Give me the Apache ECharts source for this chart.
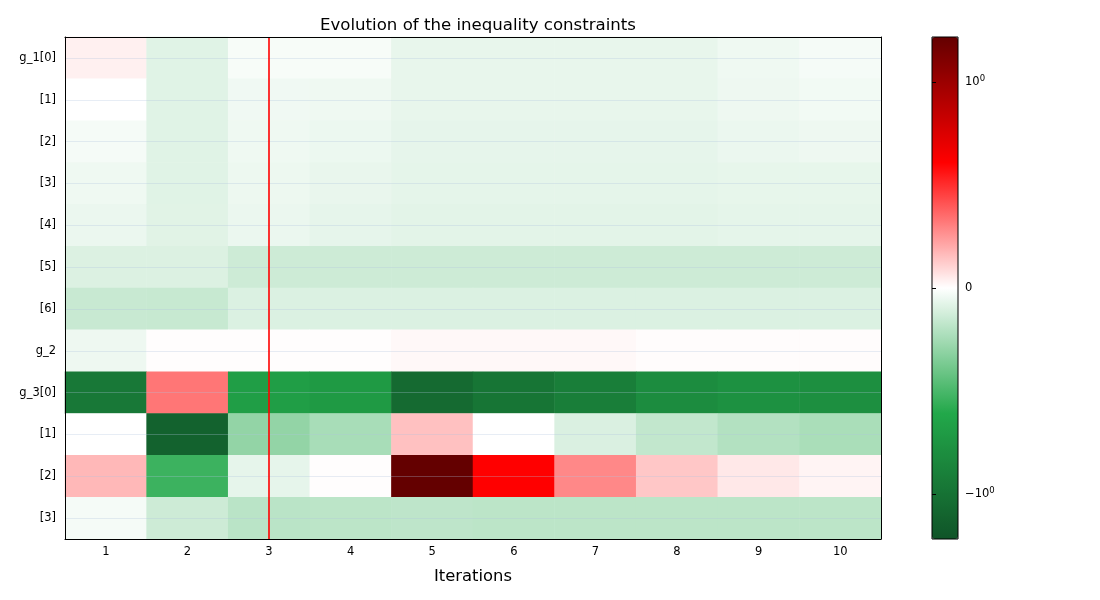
<!DOCTYPE html>
<html>
<head>
<meta charset="utf-8">
<script src="https://cdn.jsdelivr.net/npm/echarts@6/dist/echarts.min.js"></script>
<style>
  html, body { margin: 0; padding: 0; background: #fff; }
  #chart { width: 1100px; height: 600px; }
</style>
</head>
<body>
<div id="chart"></div>
<script>
// x categories
const iterations = ['1', '2', '3', '4', '5', '6', '7', '8', '9', '10'];
// y categories, top to bottom
const constraints = ['g_1[0]', '[1]', '[2]', '[3]', '[4]', '[5]', '[6]', 'g_2', 'g_3[0]', '[1]', '[2]', '[3]'];

// one array per constraint row
const g1_0 = [0.036, -0.085, -0.022, -0.022, -0.063, -0.063, -0.063, -0.063, -0.044, -0.028];
const g1_1 = [0.001, -0.085, -0.041, -0.043, -0.063, -0.063, -0.063, -0.063, -0.047, -0.036];
const g1_2 = [-0.028, -0.085, -0.044, -0.052, -0.069, -0.069, -0.069, -0.069, -0.055, -0.047];
const g1_3 = [-0.044, -0.085, -0.050, -0.060, -0.072, -0.072, -0.072, -0.072, -0.066, -0.066];
const g1_4 = [-0.055, -0.083, -0.055, -0.069, -0.077, -0.077, -0.077, -0.077, -0.072, -0.072];
const g1_5 = [-0.096, -0.096, -0.138, -0.138, -0.138, -0.138, -0.138, -0.138, -0.138, -0.138];
const g1_6 = [-0.152, -0.155, -0.099, -0.099, -0.099, -0.099, -0.099, -0.099, -0.099, -0.099];
const g2 = [-0.047, 0.004, 0.004, 0.004, 0.017, 0.017, 0.017, 0.008, 0.008, 0.008];
const g3_0 = [-0.957, 0.327, -0.682, -0.710, -1.16, -0.979, -0.913, -0.812, -0.776, -0.79];
const g3_1 = [0.001, -1.35, -0.298, -0.240, 0.148, 0.001, -0.102, -0.168, -0.209, -0.234];
const g3_2 = [0.170, -0.537, -0.069, 0.005, 1.75, 0.609, 0.284, 0.134, 0.055, 0.026];
const g3_3 = [-0.028, -0.138, -0.190, -0.185, -0.180, -0.185, -0.185, -0.185, -0.185, -0.185];

const rows = [g1_0, g1_1, g1_2, g1_3, g1_4, g1_5, g1_6, g2, g3_0, g3_1, g3_2, g3_3];
const markedIteration = 2; // index of iteration "3"

// symlog like matplotlib, linthresh 1, linscale 1
const linScale = 1 / (1 - 1 / 10);
function symlog(v) {
    const a = Math.abs(v);
    const t = a <= 1 ? a * linScale : linScale + Math.log10(a);
    return v < 0 ? -t : t;
}

const vmax = Math.max(...rows.flat().map(Math.abs));
const tMax = symlog(vmax);

const data = [];
rows.forEach((row, yi) => {
    row.forEach((v, xi) => {
        data.push([xi, yi, symlog(v), v]);
    });
});

const font = 'DejaVu Sans';
const chart = echarts.init(document.getElementById('chart'));

const option = {
    animation: false,
    textStyle: { fontFamily: font },
    title: {
        text: 'Evolution of the inequality constraints',
        left: 473,
        top: 12,
        textAlign: 'center',
        textStyle: { fontFamily: font, fontSize: 16.6, fontWeight: 'normal', color: '#000' }
    },
    grid: [
        { left: 65, right: 219, top: 37, bottom: 61 },
        { left: 932, width: 26, top: 37, height: 502, show: true, borderColor: '#000', borderWidth: 1, z: 6 }
    ],
    xAxis: [
        {
            type: 'category',
            data: iterations,
            gridIndex: 0,
            z: 10,
            name: 'Iterations',
            nameLocation: 'middle',
            nameGap: 30,
            nameTextStyle: { fontFamily: font, fontSize: 16.4, color: '#000' },
            axisLine: { lineStyle: { color: '#000', width: 1 } },
            axisTick: { alignWithLabel: true, length: 4, lineStyle: { color: '#000' } },
            axisLabel: { fontFamily: font, fontSize: 11.5, color: '#000', margin: 7 },
            splitLine: { show: false }
        },
        {
            type: 'category',
            data: iterations,
            gridIndex: 0,
            position: 'top',
            z: 10,
            axisLine: { lineStyle: { color: '#000', width: 1 } },
            axisTick: { show: false },
            axisLabel: { show: false }
        },
        { type: 'value', gridIndex: 1, show: false, min: 0, max: 1 }
    ],
    yAxis: [
        {
            type: 'category',
            data: constraints,
            gridIndex: 0,
            inverse: true,
            z: 10,
            axisLine: { lineStyle: { color: '#000', width: 1 } },
            axisTick: { alignWithLabel: true, length: 4, lineStyle: { color: '#000' } },
            axisLabel: { fontFamily: font, fontSize: 11.5, color: '#000', margin: 9 },
            splitLine: { show: false }
        },
        {
            type: 'category',
            data: constraints,
            gridIndex: 0,
            inverse: true,
            position: 'right',
            z: 10,
            axisLine: { lineStyle: { color: '#000', width: 1 } },
            axisTick: { show: false },
            axisLabel: { show: false }
        },
        {
            type: 'value',
            gridIndex: 1,
            position: 'right',
            min: -tMax,
            max: tMax,
            z: 10,
            axisLine: { show: false },
            splitLine: { show: false },
            axisTick: { show: true, inside: false, length: 4, customValues: [-linScale, 0, linScale], lineStyle: { color: '#000' } },
            axisLabel: {
                show: true,
                margin: 7,
                customValues: [-linScale, 0, linScale],
                color: '#000',
                fontFamily: font,
                fontSize: 11.5,
                formatter: (v) => {
                    if (Math.abs(v) < 1e-9) return '0';
                    return (v < 0 ? '\u221210' : '10') + '{sup|0}';
                },
                rich: {
                    sup: { fontSize: 8.5, fontFamily: font, color: '#000', padding: [0, 0, 7, 0] }
                }
            }
        }
    ],
    visualMap: {
        type: 'continuous',
        show: true,
        dimension: 2,
        seriesIndex: 0,
        min: -tMax,
        max: tMax,
        calculable: false,
        left: 932,
        top: 37,
        padding: 0,
        itemWidth: 26,
        itemHeight: 502,
        text: null,
        showLabel: false,
        inRange: {
            color: ['#105428', '#22a84a', '#ffffff', '#ff0000', '#640000']
        }
    },
    series: [
        {
            type: 'heatmap',
            xAxisIndex: 0,
            yAxisIndex: 0,
            data: data,
            emphasis: { disabled: true },
            itemStyle: { borderWidth: 0 },
            markLine: {
                silent: true,
                symbol: 'none',
                label: { show: false },
                animation: false,
                data: constraints.map((c, i) => ({
                    yAxis: i,
                    lineStyle: { color: 'rgba(176,196,222,0.3)', width: 1, type: 'solid' }
                })).concat([{
                    xAxis: markedIteration,
                    lineStyle: { color: '#ff0000', width: 1.6, type: 'solid' }
                }])
            }
        }
    ]
};

chart.setOption(option);
</script>
</body>
</html>
